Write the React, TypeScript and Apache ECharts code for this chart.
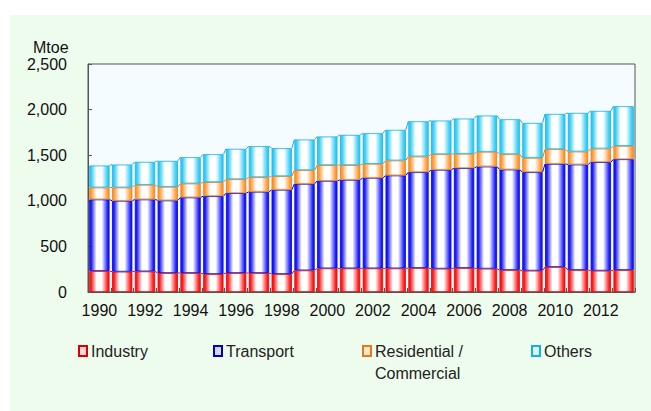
import React, { useEffect, useRef } from "react";
import * as echarts from "echarts";

const years = ["1990","1991","1992","1993","1994","1995","1996","1997","1998","1999","2000","2001","2002","2003","2004","2005","2006","2007","2008","2009","2010","2011","2012","2013"];
const industry = [230,223,226,208,208,197,208,208,197,237,259,259,259,259,263,256,263,256,241,234,274,241,234,241];
const transport = [785,777,789,796,829,854,876,891,924,949,960,971,993,1019,1051,1084,1095,1120,1102,1080,1131,1157,1190,1215];
const residential = [131,146,160,149,153,154,153,160,149,150,172,161,153,164,172,171,157,161,168,157,161,142,149,146];
const others = [241,252,252,285,288,306,333,340,307,336,314,332,336,336,386,369,387,398,383,383,387,424,413,435];
const seriesNames = ["Industry", "Transport", "Residential /", "Others"];
const yTicks = [0, 500, 1000, 1500, 2000, 2500];

const baseColors = ["#ff1a1a", "#1a1aff", "#ff9933", "#33ccf5"];
const borderColors = ["#dd0000", "#0000cc", "#e07a1a", "#1aaee0"];
const lightColors = ["#ffd6d6", "#d6d6ff", "#ffe6cc", "#d6f3ff"];

const grad = (c: string) =>
  new echarts.graphic.LinearGradient(0, 0, 1, 0, [
    { offset: 0, color: c },
    { offset: 0.08, color: c },
    { offset: 0.35, color: "#ffffff" },
    { offset: 0.62, color: "#ffffff" },
    { offset: 0.93, color: c },
    { offset: 1, color: c },
  ]);

const FONT = "Liberation Sans, Arial, sans-serif";

export default function App() {
  const ref = useRef<HTMLDivElement>(null);
  useEffect(() => {
    if (!ref.current) return;
    const chart = echarts.init(ref.current, undefined, { renderer: "svg" });
    const dataArr = [industry, transport, residential, others];
    const cum: number[][] = [];
    let run = years.map(() => 0);
    dataArr.forEach((arr) => {
      run = run.map((v, i) => v + arr[i]);
      cum.push(run.slice());
    });
    const gapRatio = 0.11;
    const connectorData = years.slice(0, -1).map((_, i) => [i, cum[3][i]]);

    const legendLefts = [78, 213, 362, 531];
    chart.setOption({
      animation: false,
      backgroundColor: "transparent",
      textStyle: { fontFamily: FONT },
      grid: {
        left: 88, right: 16, top: 64, bottom: 119,
        show: true, backgroundColor: "#f5fcff", borderColor: "#555", borderWidth: 1,
      },
      legend: seriesNames.map((n, k) => ({
        left: legendLefts[k], top: 343, padding: 0,
        data: [{ name: n, icon: "rect", itemStyle: { color: lightColors[k], borderColor: borderColors[k], borderWidth: 2 } }],
        itemWidth: 8, itemHeight: 10, itemGap: 4,
        textStyle: { fontSize: 16, color: "#222", padding: [0, 0, 0, -1] },
        selectedMode: false,
      })),
      xAxis: {
        type: "category",
        data: years,
        axisLine: { show: true, lineStyle: { color: "#555" } },
        axisTick: { show: true, inside: true, length: 4, interval: 0, lineStyle: { color: "#555" } },
        axisLabel: { interval: 1, fontSize: 16, color: "#111", margin: 10 },
      },
      yAxis: {
        type: "value",
        min: yTicks[0], max: yTicks[yTicks.length - 1], interval: 500,
        splitLine: { show: false },
        axisLine: { show: true, lineStyle: { color: "#555" } },
        axisTick: { show: true, inside: true, length: 4, lineStyle: { color: "#555" } },
        axisLabel: {
          fontSize: 16, color: "#111", margin: 21,
          formatter: (v: number) => v.toLocaleString("en-US"),
        },
      },
      graphic: [
        { type: "text", left: 33, top: 39, style: { text: "Mtoe", fontSize: 16, fill: "#111", fontFamily: FONT } },
        { type: "text", left: 375, top: 365, style: { text: "Commercial", fontSize: 16, fill: "#222", fontFamily: FONT } },
      ],
      series: [
        ...dataArr.map((arr, k) => ({
          name: seriesNames[k],
          type: "bar",
          stack: "total",
          barCategoryGap: "11%",
          data: arr,
          itemStyle: { color: grad(baseColors[k]), borderColor: borderColors[k], borderWidth: 0.8 },
        })),
        {
          type: "custom",
          name: "connectors",
          data: connectorData,
          encode: { x: 0, y: 1 },
          z: 5,
          renderItem: (params: any, api: any) => {
            const i = params.dataIndex;
            const hw = (api.size([1, 0])[0] * (1 - gapRatio)) / 2;
            const children: any[] = [];
            for (let k = 0; k < 4; k++) {
              const p1 = api.coord([i, cum[k][i]]);
              const p2 = api.coord([i + 1, cum[k][i + 1]]);
              children.push({
                type: "line",
                shape: { x1: p1[0] + hw, y1: p1[1], x2: p2[0] - hw, y2: p2[1] },
                style: { stroke: borderColors[k], lineWidth: 1 },
              });
            }
            return { type: "group", children };
          },
        },
      ],
    });
    return () => chart.dispose();
  }, []);
  return (
    <div style={{ position: "fixed", left: 0, top: 0, width: 651, height: 411, background: "#ffffff" }}>
      <div style={{ position: "absolute", left: 10, top: 15, right: 0, bottom: 0, background: "#eefcee" }} />
      <div ref={ref} style={{ position: "absolute", left: 0, top: 0, width: 651, height: 411 }} />
    </div>
  );
}
